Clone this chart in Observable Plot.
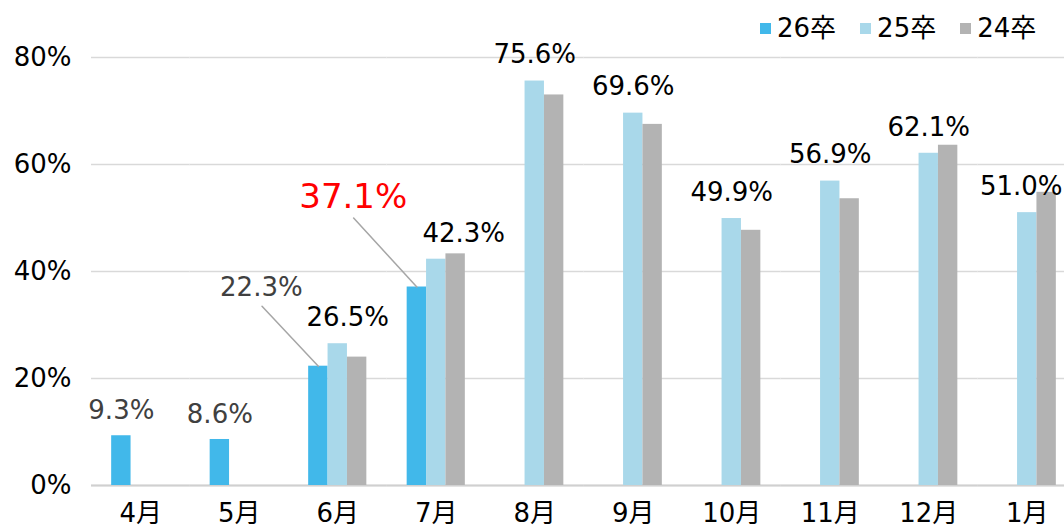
<!DOCTYPE html>
<html><head><meta charset="utf-8">
<script src="https://cdn.jsdelivr.net/npm/d3@7"></script>
<script src="https://cdn.jsdelivr.net/npm/@observablehq/plot@0.6"></script>
<style>
html,body{margin:0;padding:0;background:#fff;overflow:hidden;}
#wrap{position:relative;width:1064px;height:528px;overflow:hidden;font-family:"DejaVu Sans","Noto Sans CJK JP",sans-serif;}
#legend{position:absolute;left:760px;top:12px;display:flex;gap:24px;font-size:26px;line-height:32px;color:#000;}
#legend .item{display:flex;align-items:center;gap:6px;}
#legend .sw{width:11px;height:11px;}
</style></head><body><div id="wrap"></div>
<script>
const months = ["4月","5月","6月","7月","8月","9月","10月","11月","12月","1月"];
const seriesNames = ["26卒","25卒","24卒"];
const colors = ["#41b8ea","#a9d8ea","#b3b3b3"];
const grad26 = [9.3, 8.6, 22.3, 37.1, null, null, null, null, null, null];
const grad25 = [null, null, 26.5, 42.3, 75.6, 69.6, 49.9, 56.9, 62.1, 51.0];
const grad24 = [null, null, 24.0, 43.3, 73.0, 67.5, 47.7, 53.6, 63.6, 54.8];

const rows = [];
[grad26, grad25, grad24].forEach((vals, s) => vals.forEach((v, m) => {
  if (v != null) rows.push({month: months[m], series: seriesNames[s], value: v});
}));
const fmt = d => d.value.toFixed(1) + "%";
const is = (s, m) => d => d.series === s && (m == null || m.includes(d.month));
const lineShape = {draw(context, l) { context.moveTo(0, 0); context.lineTo(0, -l); }};

const chart = Plot.plot({
  width: 1064, height: 528,
  marginTop: 57, marginBottom: 43, marginLeft: 91, marginRight: 0,
  style: {fontFamily: '"DejaVu Sans","Noto Sans CJK JP",sans-serif', fontSize: "26px", color: "#000", background: "#fff"},
  fx: {domain: months, range: [91, 1076], padding: 0, round: false, axis: "bottom", tickSize: 0, tickPadding: 18, label: null},
  x: {domain: seriesNames, paddingInner: 0, paddingOuter: 1.04, round: false, axis: null},
  y: {domain: [0, 80], ticks: 4, tickFormat: d => d + "%", tickSize: 0, tickPadding: 20, label: null},
  color: {domain: seriesNames, range: colors},
  marks: [
    Plot.gridY({ticks: 4, stroke: "#d9d9d9", strokeOpacity: 1, strokeWidth: 1.5}),
    Plot.ruleY([0], {stroke: "#d0d0d0", strokeWidth: 2}),
    Plot.barY(rows, {fx: "month", x: "series", y: "value", fill: "series"}),
    // 25卒 labels
    Plot.text(rows.filter(d => d.series === "25卒" && !["6月","7月","1月"].includes(d.month)),
      {fx: "month", x: "series", y: "value", text: fmt, dy: -26, fill: "#000"}),
    Plot.text(rows.filter(is("25卒", ["6月"])), {fx: "month", x: "series", y: "value", text: fmt, dy: -26, dx: 10, fill: "#000"}),
    Plot.text(rows.filter(is("25卒", ["7月"])), {fx: "month", x: "series", y: "value", text: fmt, dy: -26, dx: 27.5, fill: "#000"}),
    Plot.text(rows.filter(is("25卒", ["1月"])), {fx: "month", x: "series", y: "value", text: fmt, dy: -26, dx: -6, fill: "#000"}),
    // 26卒 labels
    Plot.text(rows.filter(is("26卒", ["4月","5月"])), {fx: "month", x: "series", y: "value", text: fmt, dy: -25, fill: "#404040"}),
    Plot.vector(rows.filter(is("26卒", ["6月"])), {fx: "month", x: "series", y: "value", anchor: "start", length: 82.3, rotate: -43.2, r: 0, shape: lineShape, stroke: "#a6a6a6", strokeWidth: 1.5}),
    Plot.text(rows.filter(is("26卒", ["6月"])), {fx: "month", x: "series", y: "value", text: fmt, dx: -57, dy: -79, fill: "#404040"}),
    Plot.vector(rows.filter(is("26卒", ["7月"])), {fx: "month", x: "series", y: "value", anchor: "start", length: 93.6, rotate: -42.5, r: 0, shape: lineShape, stroke: "#a6a6a6", strokeWidth: 1.5}),
    Plot.text(rows.filter(is("26卒", ["7月"])), {fx: "month", x: "series", y: "value", text: fmt, dx: -63.6, dy: -89.7, fontSize: 34, fill: "#ff0000"})
  ]
});

const wrap = document.getElementById("wrap");
wrap.appendChild(chart);
const legend = document.createElement("div");
legend.id = "legend";
seriesNames.forEach((s, i) => {
  const item = document.createElement("div");
  item.className = "item";
  const sw = document.createElement("span");
  sw.className = "sw";
  sw.style.background = colors[i];
  const t = document.createElement("span");
  t.textContent = s;
  item.append(sw, t);
  legend.appendChild(item);
});
wrap.appendChild(legend);
</script></body></html>
